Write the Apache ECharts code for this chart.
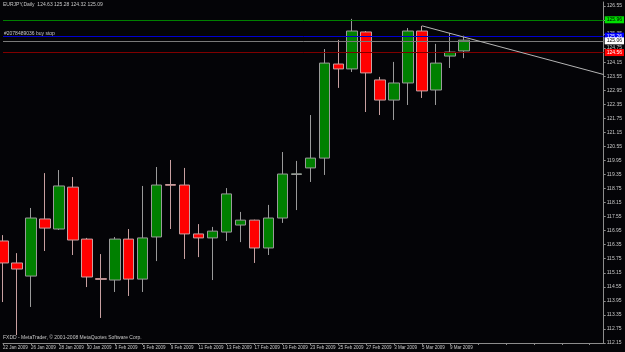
<!DOCTYPE html>
<html>
<head>
<meta charset="utf-8">
<title>EURJPY,Daily</title>
<script src="https://cdn.jsdelivr.net/npm/echarts@6.0.0/dist/echarts.min.js"></script>
<style>
  html, body { margin: 0; padding: 0; background: #040407; }
  #chart { width: 625px; height: 352px; }
</style>
</head>
<body>
<div id="chart"></div>
<script>
// daily bars, EURJPY
const dates = ['22 Jan 2009', '23 Jan 2009', '26 Jan 2009', '27 Jan 2009', '28 Jan 2009', '29 Jan 2009',
  '30 Jan 2009', '2 Feb 2009', '3 Feb 2009', '4 Feb 2009', '5 Feb 2009', '6 Feb 2009', '9 Feb 2009',
  '10 Feb 2009', '11 Feb 2009', '12 Feb 2009', '13 Feb 2009', '16 Feb 2009', '17 Feb 2009', '18 Feb 2009',
  '19 Feb 2009', '20 Feb 2009', '23 Feb 2009', '24 Feb 2009', '25 Feb 2009', '26 Feb 2009', '27 Feb 2009',
  '2 Mar 2009', '3 Mar 2009', '4 Mar 2009', '5 Mar 2009', '6 Mar 2009', '9 Mar 2009', '10 Mar 2009'];
const opens = [116.51, 115.57, 115.01, 117.45, 117.02, 118.81, 116.59, 114.90, 114.84, 116.59, 114.88, 116.68,
  118.92, 118.90, 116.81, 116.64, 116.89, 117.19, 117.40, 116.21, 117.49, 119.35, 119.63, 120.05, 124.07,
  123.86, 125.44, 123.39, 122.53, 123.26, 125.48, 122.96, 124.41, 124.63];
const closes = [115.57, 115.31, 117.49, 117.06, 118.86, 116.55, 114.97, 114.87, 116.59, 114.88, 116.64, 118.90,
  118.89, 116.81, 116.64, 116.93, 118.52, 117.40, 116.21, 117.49, 119.37, 119.38, 120.05, 124.11, 123.86,
  125.48, 123.69, 122.53, 123.26, 125.48, 122.92, 124.11, 124.58, 125.09];
const lows = [113.90, 112.49, 113.69, 116.08, 116.98, 115.91, 114.54, 113.22, 114.33, 114.16, 114.33, 115.65,
  117.02, 115.74, 115.82, 114.84, 116.51, 116.46, 115.57, 115.91, 117.28, 117.83, 119.03, 119.33, 123.05,
  123.73, 122.02, 121.89, 121.68, 122.32, 122.62, 122.32, 123.90, 124.32];
const highs = [116.76, 115.99, 117.92, 119.41, 119.54, 119.24, 116.64, 115.95, 116.68, 117.02, 118.86, 119.67,
  119.97, 119.63, 117.23, 117.11, 118.77, 117.75, 117.42, 118.05, 120.31, 119.93, 121.89, 124.71, 125.10,
  126.00, 125.48, 123.52, 124.16, 125.61, 125.70, 124.93, 125.40, 125.28];
const emptySlots = ['', '', '', '', '', '', '', '', '', ''];

const priceTicks = [112.15, 112.75, 113.35, 113.95, 114.55, 115.15, 115.75, 116.35, 116.95, 117.55, 118.15,
  118.75, 119.35, 119.95, 120.55, 121.15, 121.75, 122.35, 122.95, 123.55, 124.15, 124.75, 125.35, 125.95, 126.55];

// horizontal levels on the chart
const greenLevel = 125.96;
const buyStopLevel = 125.26;
const bidLevel = 125.06;
const redLevel = 124.56;
// trend line, [bar index, price]
const trendStart = [30, 125.70];
const trendEnd = [43, 123.62];

const fontFamily = 'Liberation Sans';
const textColor = '#c8c8c8';
const bullColor = '#008000';
const bearColor = '#ff0000';

const categories = dates.concat(emptySlots);
const candles = dates.map((d, i) => [opens[i], closes[i], lows[i], highs[i]]);

function levelLine(value, lineColor, tagColor, tagText) {
  return {
    yAxis: value,
    lineStyle: { color: lineColor, width: 1, type: 'solid' },
    label: {
      show: true,
      position: 'end',
      distance: 1,
      formatter: value.toFixed(2),
      fontSize: 5,
      fontFamily: fontFamily,
      color: tagText,
      backgroundColor: tagColor,
      padding: [1, 2, 1, 2]
    }
  };
}

let chart = echarts.init(document.getElementById('chart'));
let option = {
  backgroundColor: '#040407',
  animation: false,
  title: [
    {
      text: 'EURJPY,Daily  124.63 125.28 124.32 125.09',
      left: 3, top: 2, padding: 0,
      textStyle: { fontSize: 5, fontWeight: 'normal', color: textColor, fontFamily: fontFamily }
    },
    {
      text: '#2078489036 buy stop',
      left: 4, top: 31, padding: 0,
      textStyle: { fontSize: 5, fontWeight: 'normal', color: textColor, fontFamily: fontFamily }
    },
    {
      text: 'FXDD - MetaTrader, © 2001-2008 MetaQuotes Software Corp.',
      left: 3, top: 335, padding: 0,
      textStyle: { fontSize: 5, fontWeight: 'normal', color: textColor, fontFamily: fontFamily }
    }
  ],
  grid: { left: 1, right: 18, top: 2, bottom: 9 },
  xAxis: {
    type: 'category',
    data: categories,
    boundaryGap: false,
    axisLine: { show: true, lineStyle: { color: '#8c8c8c', width: 1 } },
    axisTick: { show: true, interval: 1, length: 2, lineStyle: { color: '#8c8c8c' } },
    axisLabel: {
      interval: 1,
      align: 'left',
      margin: 2,
      fontSize: 4.5,
      fontFamily: fontFamily,
      color: textColor
    },
    splitLine: { show: false }
  },
  yAxis: {
    type: 'value',
    position: 'right',
    min: 112.15,
    max: 126.72,
    scale: true,
    axisLine: { show: true, lineStyle: { color: '#8c8c8c', width: 1 } },
    axisTick: { show: true, length: 2, customValues: priceTicks, lineStyle: { color: '#8c8c8c' } },
    axisLabel: {
      customValues: priceTicks,
      formatter: v => v.toFixed(2),
      margin: 3,
      fontSize: 5,
      fontFamily: fontFamily,
      color: textColor
    },
    splitLine: { show: false }
  },
  series: [
    {
      name: 'EURJPY',
      type: 'candlestick',
      data: candles,
      barWidth: 11,
      clip: true,
      itemStyle: {
        color: bullColor,
        color0: bearColor,
        borderColor: '#9a9a9a',
        borderColor0: '#c8a0a0',
        borderWidth: 1
      },
      markLine: {
        symbol: 'none',
        silent: true,
        animation: false,
        data: [
          levelLine(greenLevel, '#008000', '#00e000', '#000000'),
          levelLine(buyStopLevel, '#0000d0', '#0000ff', '#ffffff'),
          levelLine(bidLevel, '#7a7a7a', '#ffffff', '#000000'),
          levelLine(redLevel, '#800000', '#ff0000', '#ffffff'),
          [
            { coord: trendStart, lineStyle: { color: '#b4b4b4', width: 1, type: 'solid' }, label: { show: false } },
            { coord: trendEnd }
          ]
        ]
      }
    }
  ]
};
chart.setOption(option);
</script>
</body>
</html>
